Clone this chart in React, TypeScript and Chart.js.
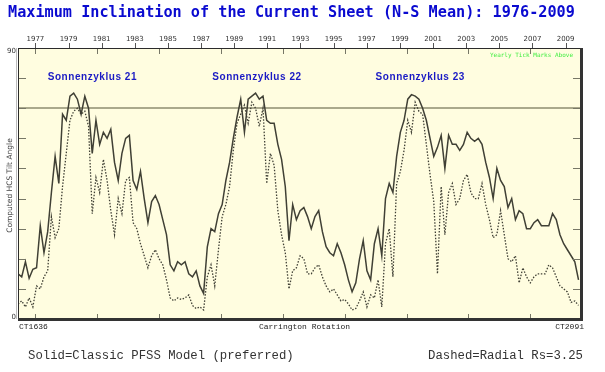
import React, { useEffect, useRef } from 'react';
import { Chart, registerables } from 'chart.js';

Chart.register(...registerables);

// ---- data -------------------------------------------------------------
const START_CR = 1636;
const END_CR = 2091;
const CR_STEP = 3;

// Classic PFSS model (solid), degrees, every 3 Carrington rotations from CR1636
const solidTilt = [
  15, 14, 19, 13.5, 16.5, 17, 31, 22, 29, 42,
  54, 45, 68, 66, 74, 75, 73, 68, 74, 70,
  55, 66, 58, 62, 60, 63, 52, 46, 55, 60,
  61, 46, 43, 49, 40, 32, 39, 41, 38, 33,
  28, 18, 16, 19, 18, 19, 15, 14, 16, 11,
  8.5, 24, 30, 29, 35, 38, 46, 52, 60, 67,
  73, 62, 73, 74, 75, 73, 74, 66, 65, 65,
  58, 53, 44, 26, 38, 33, 36, 37, 34,
  30, 34, 36, 29, 24, 22, 21, 25, 22, 18,
  13, 9, 12, 20, 26, 16, 13, 25, 30, 21,
  40, 45, 42, 54, 62, 66, 73, 74.5, 74, 73,
  70, 66, 60, 54, 57, 61, 50, 61, 58,
  58, 56, 58, 62, 60, 59, 60, 58, 52, 47,
  40, 50, 46, 44, 37, 40, 33, 36, 35, 30,
  30, 32, 33, 31, 31, 31, 35, 33, 28, 25,
  23, 21, 19, 13,
];

// Radial model Rs=3.25 (dashed)
const radialTilt = [
  5, 6, 4, 7, 4, 11, 10, 14, 16, 34,
  27, 30, 44, 55, 66, 69, 70, 68, 69, 64,
  35, 47, 42, 53, 46, 36, 28, 40, 35, 46,
  47, 32, 30, 25, 21, 17, 21, 23, 20, 18,
  13, 7, 6, 7, 6.5, 7, 8, 4.5, 3.5, 4,
  3, 14, 18, 11, 23, 34, 38, 44, 56, 65,
  68, 71, 65, 72, 70, 64, 70, 45, 55, 51,
  36, 28, 22, 10, 16, 17, 21, 20, 15,
  15, 17, 18, 14, 11, 9, 10, 8, 6, 6.5,
  5, 3, 3.5, 6, 9, 4, 8, 7, 13, 4,
  25, 30, 14, 45, 49, 56, 66, 62, 72, 69,
  68, 58, 48, 39, 15, 44, 28, 42, 45,
  38, 40, 46, 48, 42, 40, 40, 45, 38, 33,
  27, 28, 36, 28, 20, 19, 21, 12, 17, 14,
  12, 14, 15, 15, 15, 18, 17, 14, 11, 10,
  9, 5.5, 6, 4.5,
];

const rotations = solidTilt.map((_, i) => START_CR + i * CR_STEP);

const yearLabels = [1977, 1979, 1981, 1983, 1985, 1987, 1989, 1991, 1993, 1995, 1997, 1999, 2001, 2003, 2005, 2007, 2009];
const YEAR_START = 1975.95; // start of CR1636
const YEAR_END = 2009.93; // end of CR2091
const rotationTicks = [1650, 1700, 1750, 1800, 1850, 1900, 1950, 2000, 2050];
const tiltTicks = [10, 20, 30, 40, 50, 60, 70, 80];
const REF_TILT = 70;
const cycleNames = ['Sonnenzyklus 21', 'Sonnenzyklus 22', 'Sonnenzyklus 23'];
const cycleLabelCR = [1660, 1793, 1925];

const TITLE = 'Maximum Inclination of the Current Sheet (N-S Mean): 1976-2009';
const Y_TITLE = 'Computed HCS Tilt Angle';
const X_TITLE = 'Carrington Rotation';
const NOTE_TOP = 'Yearly Tick Marks Above';
const LEGEND_SOLID = 'Solid=Classic PFSS Model (preferred)';
const LEGEND_DASHED = 'Dashed=Radial Rs=3.25';

const LINE_COLOR = '#404035';

const framePlugin = {
  id: 'hcsFrame',
  beforeDatasetsDraw(chart: any) {
    const { ctx, chartArea: a, scales } = chart;
    ctx.save();
    ctx.fillStyle = '#fffde0';
    ctx.fillRect(a.left, a.top, a.right - a.left, a.bottom - a.top);
    const yRef = Math.round(scales.y.getPixelForValue(REF_TILT));
    ctx.strokeStyle = '#aaa98c';
    ctx.lineWidth = 2;
    ctx.beginPath();
    ctx.moveTo(a.left, yRef);
    ctx.lineTo(a.right, yRef);
    ctx.stroke();

    // cycle labels
    ctx.fillStyle = '#1a1ac4';
    ctx.font = 'bold 10px "Liberation Sans"';
    (ctx as any).letterSpacing = '0.55px';
    ctx.textAlign = 'left';
    ctx.textBaseline = 'alphabetic';
    cycleNames.forEach((n, i) => {
      ctx.fillText(n, scales.x.getPixelForValue(cycleLabelCR[i]), scales.y.getPixelForValue(79.5));
    });
    (ctx as any).letterSpacing = '0px';

    ctx.fillStyle = '#44ee44';
    ctx.font = '6px "DejaVu Sans Mono"';
    ctx.textAlign = 'right';
    ctx.textBaseline = 'middle';
    ctx.fillText(NOTE_TOP, a.right - 8, a.top + 7);
    ctx.restore();
  },
  afterDatasetsDraw(chart: any) {
    const { ctx, chartArea: a, scales } = chart;
    const x = scales.x;
    const y = scales.y;
    const yr = scales.yr;
    ctx.save();
    // inner ticks
    ctx.strokeStyle = '#777766';
    ctx.lineWidth = 1;
    ctx.beginPath();
    tiltTicks.forEach((t) => {
      const py = Math.round(y.getPixelForValue(t)) + 0.5;
      ctx.moveTo(a.left, py);
      ctx.lineTo(a.left + 8, py);
      ctx.moveTo(a.right, py);
      ctx.lineTo(a.right - 8, py);
    });
    rotationTicks.forEach((r) => {
      const px = Math.round(x.getPixelForValue(r)) + 0.5;
      ctx.moveTo(px, a.top);
      ctx.lineTo(px, a.top + 6);
      ctx.moveTo(px, a.bottom);
      ctx.lineTo(px, a.bottom - 5);
    });
    ctx.stroke();

    // year ticks above
    ctx.strokeStyle = '#555';
    ctx.beginPath();
    yearLabels.forEach((yy) => {
      const px = Math.round(yr.getPixelForValue(yy)) + 0.5;
      ctx.moveTo(px, a.top - 5);
      ctx.lineTo(px, a.top);
    });
    ctx.stroke();

    // frame
    ctx.strokeStyle = '#2b2b2b';
    ctx.lineWidth = 1;
    ctx.strokeRect(a.left + 0.5, a.top + 0.5, a.right - a.left - 1, a.bottom - a.top - 1);
    ctx.fillStyle = '#333';
    ctx.fillRect(a.right - 1, a.top, 3, a.bottom - a.top + 2);
    ctx.fillRect(a.left, a.bottom - 1, a.right - a.left + 2, 3);
    ctx.fillStyle = '#bbbbbb';
    ctx.fillRect(a.left - 2, a.top, 1, a.bottom - a.top);

    // year labels
    ctx.fillStyle = '#333';
    ctx.font = '7px "DejaVu Sans"';
    ctx.textAlign = 'center';
    ctx.textBaseline = 'middle';
    yearLabels.forEach((yy) => {
      ctx.fillText(String(yy), yr.getPixelForValue(yy), a.top - 9);
    });

    // y range labels
    ctx.textAlign = 'right';
    ctx.fillText('90', a.left - 2, y.getPixelForValue(90) + 3);
    ctx.fillText('0', a.left - 2, y.getPixelForValue(0) - 2);

    // y title
    ctx.save();
    ctx.translate(10, (a.top + a.bottom) / 2 + 2);
    ctx.rotate(-Math.PI / 2);
    ctx.font = '7.5px "DejaVu Sans"';
    ctx.textAlign = 'center';
    ctx.fillStyle = '#444';
    ctx.fillText(Y_TITLE, 0, 0);
    ctx.restore();

    // bottom axis labels
    ctx.fillStyle = '#222';
    ctx.font = '8px "Liberation Mono"';
    ctx.textBaseline = 'middle';
    ctx.textAlign = 'left';
    ctx.fillText('CT' + START_CR, a.left + 1, a.bottom + 8);
    ctx.textAlign = 'center';
    ctx.fillText(X_TITLE, (a.left + a.right) / 2 + 5, a.bottom + 8);
    ctx.textAlign = 'right';
    ctx.fillText('CT' + END_CR, a.right + 3, a.bottom + 8);

    // title
    ctx.fillStyle = '#0a0ad0';
    ctx.font = 'bold 15.2px "DejaVu Sans Mono"';
    ctx.textAlign = 'left';
    ctx.textBaseline = 'alphabetic';
    ctx.fillText(TITLE, 8, 17);

    // legend notes
    ctx.fillStyle = '#333';
    ctx.font = '12.3px "Liberation Mono"';
    ctx.textBaseline = 'middle';
    ctx.textAlign = 'left';
    ctx.fillText(LEGEND_SOLID, 28, 356);
    ctx.textAlign = 'right';
    ctx.fillText(LEGEND_DASHED, 583, 356);
    ctx.restore();
  },
};

export default function App() {
  const ref = useRef<HTMLCanvasElement>(null);
  useEffect(() => {
    document.body.style.margin = '0';
    const chart = new Chart(ref.current as HTMLCanvasElement, {
      type: 'line',
      data: {
        datasets: [
          {
            label: 'Classic PFSS',
            data: rotations.map((r, i) => ({ x: r, y: solidTilt[i] })),
            borderColor: LINE_COLOR,
            borderWidth: 1.5,
            pointRadius: 0,
            fill: false,
            tension: 0,
          },
          {
            label: 'Radial Rs=3.25',
            data: rotations.map((r, i) => ({ x: r, y: radialTilt[i] })),
            borderColor: LINE_COLOR,
            borderWidth: 1.3,
            borderDash: [1.5, 1.6],
            pointRadius: 0,
            fill: false,
            tension: 0,
          },
        ],
      },
      options: {
        animation: false,
        responsive: false,
        devicePixelRatio: 1,
        layout: { padding: { left: 18, top: 48, right: 24, bottom: 53 } },
        plugins: { legend: { display: false }, tooltip: { enabled: false } },
        scales: {
          x: { type: 'linear', min: START_CR, max: END_CR, display: false },
          y: { type: 'linear', min: 0, max: 90, display: false },
          yr: { type: 'linear', axis: 'x', position: 'top', min: YEAR_START, max: YEAR_END, display: false },
        },
      } as any,
      plugins: [framePlugin],
    });
    return () => chart.destroy();
  }, []);
  return <canvas ref={ref} width={605} height={372} style={{ display: 'block' }} />;
}
